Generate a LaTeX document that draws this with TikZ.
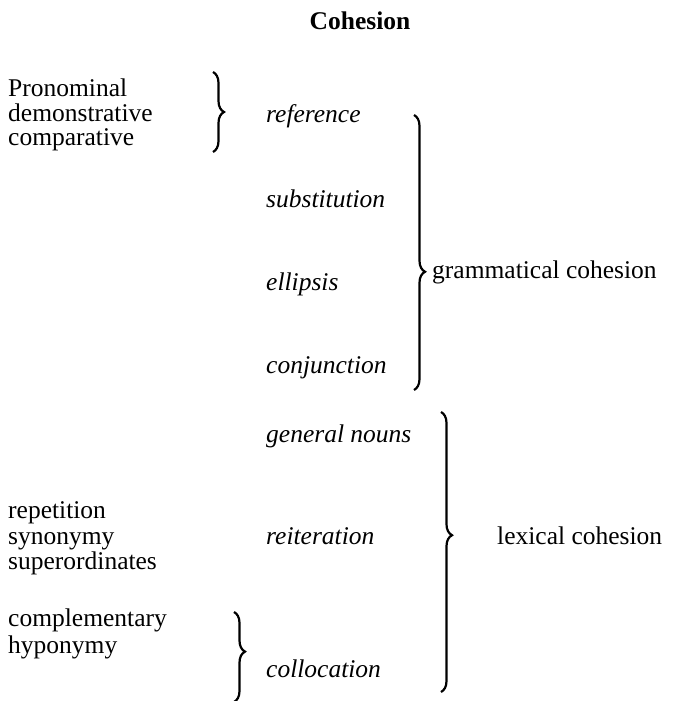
\documentclass[tikz,border=0pt]{standalone}
\usepackage{fontspec}
\setmainfont{Liberation Serif}
\usetikzlibrary{decorations.pathreplacing}
\begin{document}
\begin{tikzpicture}[x=1pt,y=-1pt,
  lbl/.style={anchor=base west,inner sep=0pt,font=\fontsize{25.5}{28}\selectfont},
  itl/.style={lbl,font=\fontsize{25.5}{28}\selectfont\itshape},
  brc/.style={decorate,decoration={brace,amplitude=11pt,aspect=#1},line width=2.2pt},
  brc/.default=0.5]
\useasboundingbox (0,0) rectangle (675,701);
\node[lbl,anchor=base,font=\fontsize{25.5}{28}\selectfont\bfseries] (title) at (360,30) {Cohesion};
% left column top
\node[lbl] (pron) at (8,96) {Pronominal};
\node[lbl] (dem) at (8,121) {demonstrative};
\node[lbl] (comp) at (8,145) {comparative};
% middle column
\node[itl] (ref) at (266,122) {reference};
\node[itl] (sub) at (266,207) {substitution};
\node[itl] (ell) at (266,290) {ellipsis};
\node[itl] (conj) at (266,373) {conjunction};
\node[itl] (gen) at (266,442) {general nouns};
\node[itl] (reit) at (266,544) {reiteration};
\node[itl] (coll) at (266,677) {collocation};
% right labels
\node[lbl] (gram) at (432,278) {grammatical cohesion};
\node[lbl] (lex) at (497,544) {lexical cohesion};
% left column bottom
\node[lbl] (rep) at (8,518) {repetition};
\node[lbl] (syn) at (8,544) {synonymy};
\node[lbl] (sup) at (8,569) {superordinates};
\node[lbl] (compl) at (8,626) {complementary};
\node[lbl] (hyp) at (8,653) {hyponymy};
% braces
\coordinate (b1t) at (213,72);
\coordinate (b1b) at (213,152);
\coordinate (b2t) at (414,115);
\coordinate (b2b) at (414,390);
\coordinate (b3t) at (441,412);
\coordinate (b3b) at (441,692);
\coordinate (b4t) at (234,612);
\coordinate (b4b) at (234,702);
\draw[brc=0.5] (b1t) -- (b1b);
\draw[brc=0.57] (b2t) -- (b2b);
\draw[brc=0.44] (b3t) -- (b3b);
\draw[brc=0.44] (b4t) -- (b4b);
\end{tikzpicture}
\end{document}
